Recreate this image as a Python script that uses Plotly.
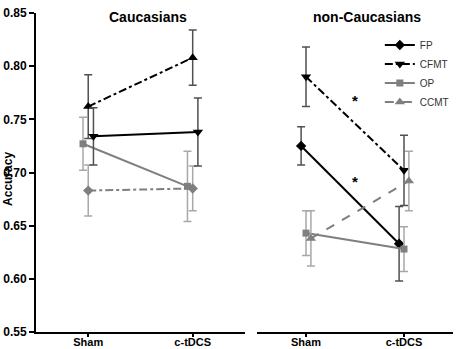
import plotly.graph_objects as go

# ---- data ----
categories = ["Sham", "c-tDCS"]
y_ticks = [0.55, 0.60, 0.65, 0.70, 0.75, 0.80, 0.85]
y_tick_labels = ["0.55", "0.60", "0.65", "0.70", "0.75", "0.80", "0.85"]

# Caucasians panel
cau_FP = [0.734, 0.738]
cau_FP_err = [0.027, 0.032]
cau_CFMT = [0.762, 0.808]
cau_CFMT_err = [0.030, 0.026]
cau_OP = [0.727, 0.687]
cau_OP_err = [0.025, 0.033]
cau_CCMT = [0.683, 0.685]
cau_CCMT_err = [0.024, 0.021]

# non-Caucasians panel
non_FP = [0.725, 0.633]
non_FP_err = [0.018, 0.035]
non_CFMT = [0.790, 0.702]
non_CFMT_err = [0.028, 0.033]
non_OP = [0.643, 0.628]
non_OP_err = [0.021, 0.021]
non_CCMT = [0.638, 0.692]
non_CCMT_err = [0.026, 0.028]

FONT = "Liberation Sans, Arial, sans-serif"
BLACK = "#000000"
GRAY = "#7f7f7f"
ERR_DARK = "#505050"
ERR_LIGHT = "#a8a8a8"
DASHDOT = "8px,3px,3px,3px"

fig = go.Figure()


def add(xaxis, yaxis, vals, errs, offset, color, dash, symbol, msize, errcolor, name, showlegend):
    xs = [i + offset for i in range(len(categories))]
    fig.add_trace(go.Scatter(
        x=xs, y=vals, mode="lines+markers", name=name, showlegend=showlegend,
        xaxis=xaxis, yaxis=yaxis,
        line=dict(color=color, width=2, dash=dash),
        marker=dict(symbol=symbol, size=msize, color=color),
        error_y=dict(type="data", array=errs, visible=True, color=errcolor, thickness=1.5, width=4),
    ))


# Left panel (marker shapes as drawn in the original)
add("x", "y", cau_OP, cau_OP_err, -0.05, GRAY, "solid", "square", 7, ERR_LIGHT, "OP", False)
add("x", "y", cau_CCMT, cau_CCMT_err, 0.0, GRAY, DASHDOT, "diamond", 8, ERR_LIGHT, "CCMT", False)
add("x", "y", cau_CFMT, cau_CFMT_err, 0.0, BLACK, DASHDOT, "triangle-up", 9, ERR_DARK, "CFMT", False)
add("x", "y", cau_FP, cau_FP_err, 0.05, BLACK, "solid", "triangle-down", 9, ERR_DARK, "FP", False)

# Right panel
add("x2", "y2", non_FP, non_FP_err, -0.05, BLACK, "solid", "diamond", 8, ERR_DARK, "FP", True)
add("x2", "y2", non_CFMT, non_CFMT_err, 0.0, BLACK, DASHDOT, "triangle-down", 9, ERR_DARK, "CFMT", True)
add("x2", "y2", non_OP, non_OP_err, 0.0, GRAY, "solid", "square", 7, ERR_LIGHT, "OP", True)
add("x2", "y2", non_CCMT, non_CCMT_err, 0.05, GRAY, "dash", "triangle-up", 9, ERR_LIGHT, "CCMT", True)

xcommon = dict(
    range=[-0.5, 1.5], tickmode="array", tickvals=[0, 1], ticktext=categories,
    showline=True, linecolor="black", linewidth=2, ticks="outside", ticklen=3,
    tickwidth=1.5, tickcolor="black", showgrid=False, zeroline=False,
    ticklabelstandoff=-4,
    tickfont=dict(family=FONT, size=11, color="black", weight="bold"),
)

fig.update_layout(
    width=459, height=349,
    margin=dict(l=36, r=6, t=13, b=17, autoexpand=False),
    paper_bgcolor="white", plot_bgcolor="white",
    showlegend=True,
    legend=dict(
        x=1.002, y=0.945, xanchor="right", yanchor="top",
        font=dict(family=FONT, size=10, color="#333333"),
        itemwidth=30, tracegroupgap=0, bgcolor="rgba(0,0,0,0)",
    ),
    xaxis=dict(domain=[0, 0.501], **xcommon),
    xaxis2=dict(domain=[0.530, 1], **xcommon),
    yaxis=dict(
        range=[0.55, 0.85], tickmode="array", tickvals=y_ticks, ticktext=y_tick_labels,
        showline=True, linecolor="black", linewidth=2, ticks="outside", ticklen=5,
        tickwidth=1.5, tickcolor="black", showgrid=False, zeroline=False,
        tickfont=dict(family=FONT, size=12, color="black", weight="bold"),
        anchor="x",
    ),
    yaxis2=dict(range=[0.55, 0.85], visible=False, anchor="x2", matches="y"),
    annotations=[
        dict(text="<b>Caucasians</b>", x=0.269, y=1.0, xref="paper", yref="paper",
             xanchor="center", yanchor="middle", showarrow=False, yshift=-4,
             font=dict(family=FONT, size=14, color="black")),
        dict(text="<b>non-Caucasians</b>", x=0.794, y=1.0, xref="paper", yref="paper",
             xanchor="center", yanchor="middle", showarrow=False, yshift=-4,
             font=dict(family=FONT, size=14, color="black")),
        dict(text="<b>Accuracy</b>", x=-0.067, y=0.48, xref="paper", yref="paper",
             xanchor="center", yanchor="middle", showarrow=False, textangle=-90,
             font=dict(family=FONT, size=12, color="black")),
        dict(text="<b>*</b>", x=0.5, y=0.768, xref="x2", yref="y2",
             showarrow=False, font=dict(family=FONT, size=15, color="black")),
        dict(text="<b>*</b>", x=0.5, y=0.692, xref="x2", yref="y2",
             showarrow=False, font=dict(family=FONT, size=15, color="black")),
    ],
)

fig.write_html("out.html", config={"displayModeBar": False},
               post_script="document.body.style.margin='0';")
